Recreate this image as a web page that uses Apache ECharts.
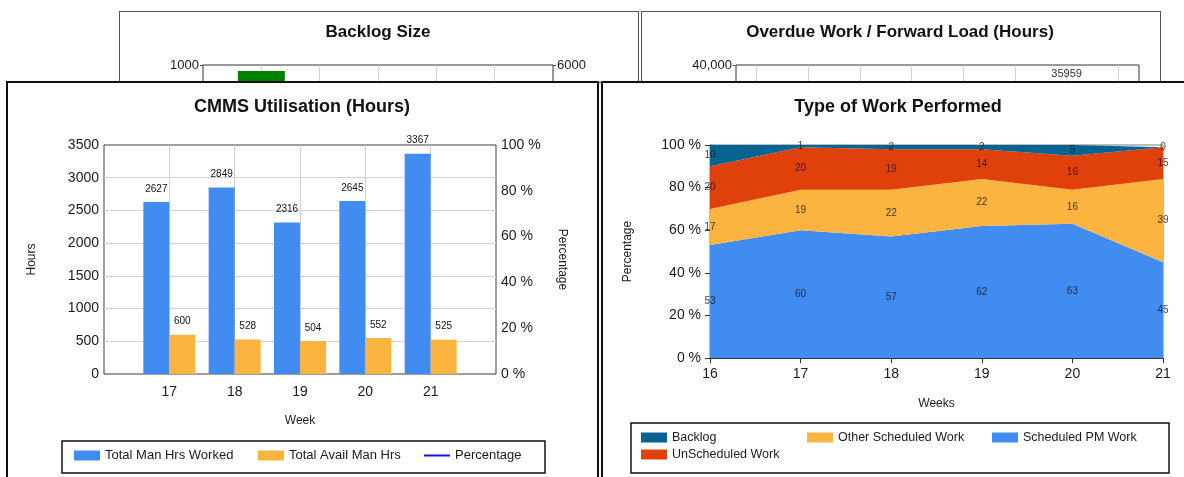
<!DOCTYPE html>
<html>
<head>
<meta charset="utf-8">
<title>CMMS Dashboard</title>
<script src="https://cdn.jsdelivr.net/npm/echarts@6/dist/echarts.min.js"></script>
<style>
  html, body { margin: 0; padding: 0; background: #fff; width: 1184px; height: 477px; overflow: hidden; }
  .layer { position: absolute; left: 0; top: 0; width: 1184px; height: 477px; }
  .frame { position: absolute; box-sizing: border-box; background: #fff; }
  #tlFrame { left: 119px; top: 11px; width: 520px; height: 72px; border: 1px solid #555; }
  #trFrame { left: 641px; top: 11px; width: 520px; height: 72px; border: 1px solid #555; }
  #blFrame { left: 6px; top: 81px; width: 593px; height: 420px; border: 2px solid #111; }
  #brFrame { left: 601px; top: 81px; width: 600px; height: 420px; border: 2px solid #111; }
</style>
</head>
<body>
<div id="tlFrame" class="frame"></div>
<div id="trFrame" class="frame"></div>
<div id="topCharts" class="layer"></div>
<div id="blFrame" class="frame"></div>
<div id="brFrame" class="frame"></div>
<div id="mainCharts" class="layer"></div>
<script>
const FONT = 'Liberation Sans, Arial, sans-serif'
const TEXT = '#1a1a1a'

// CMMS Utilisation (Hours)
const utilWeeks = [17, 18, 19, 20, 21]
const manHrsWorked = [2627, 2849, 2316, 2645, 3367]
const availManHrs = [600, 528, 504, 552, 525]
const percentage = []

// Type of Work Performed (bottom band first)
const workWeeks = ['16', '17', '18', '19', '20', '21']
const scheduledPm = [53, 60, 57, 62, 63, 45]
const otherScheduled = [17, 19, 22, 22, 16, 39]
const unscheduled = [20, 20, 19, 14, 16, 15]
const backlog = [10, 1, 2, 2, 5, 0]

// partly hidden panels behind
const backlogWeeks = [17]
const backlogSize = [970]
const loadWeeks = [22]
const forwardLoad = [35959]

const blue = '#418CF0'
const orange = '#FCB441'
const red = '#E0400A'
const teal = '#056492'

const bands = [
  { name: 'Scheduled PM Work', values: scheduledPm, color: blue },
  { name: 'Other Scheduled Work', values: otherScheduled, color: orange },
  { name: 'UnScheduled Work', values: unscheduled, color: red },
  { name: 'Backlog', values: backlog, color: teal }
]

// label sits in the middle of each band
const bandLabels = []
const running = workWeeks.map(() => 0)
bands.forEach(b => {
  b.values.forEach((v, i) => {
    bandLabels.push([i, running[i] + v / 2, v])
    running[i] += v
  })
})

const plain = v => String(v)
const withCommas = v => v.toString().replace(/\B(?=(\d{3})+(?!\d))/g, ',')

const axisText = { fontSize: 14, color: TEXT, fontFamily: FONT }
const nameText = { fontSize: 12, color: TEXT, fontFamily: FONT }
const gridLine = { lineStyle: { color: '#d0d0d0', width: 1 } }

// ---- top panels (mostly covered) ----
const topChart = echarts.init(document.getElementById('topCharts'))
topChart.setOption({
  animation: false,
  title: [
    { text: 'Backlog Size', left: 378, top: 24, textAlign: 'center', padding: 0,
      textStyle: { fontSize: 17, fontWeight: 'bold', color: '#111', fontFamily: FONT } },
    { text: 'Overdue Work / Forward Load (Hours)', left: 900, top: 24, textAlign: 'center', padding: 0,
      textStyle: { fontSize: 17, fontWeight: 'bold', color: '#111', fontFamily: FONT } }
  ],
  grid: [
    { left: 203, top: 65, width: 350, height: 200, show: true, borderColor: '#333', borderWidth: 1 },
    { left: 736, top: 65, width: 403, height: 200, show: true, borderColor: '#333', borderWidth: 1 }
  ],
  xAxis: [
    { gridIndex: 0, type: 'value', min: 16, max: 22, interval: 1,
      axisLine: { show: false }, axisTick: { show: false }, axisLabel: { show: false },
      splitLine: { ...gridLine, showMinLine: false, showMaxLine: false } },
    { gridIndex: 1, type: 'value', min: 15.6, max: 23.4, splitNumber: 8, minInterval: 1, maxInterval: 1,
      axisLine: { show: false }, axisTick: { show: false }, axisLabel: { show: false },
      splitLine: { ...gridLine, showMinLine: false, showMaxLine: false } }
  ],
  yAxis: [
    { gridIndex: 0, type: 'value', min: 0, max: 1000, interval: 250,
      axisLine: { show: false }, axisTick: { show: true, length: 3 },
      axisLabel: { fontSize: 13, color: TEXT, fontFamily: FONT, margin: 4, formatter: plain },
      splitLine: { show: false } },
    { gridIndex: 0, type: 'value', min: 0, max: 6000, interval: 1500, position: 'right',
      axisLine: { show: false }, axisTick: { show: true, length: 3 },
      axisLabel: { fontSize: 13, color: TEXT, fontFamily: FONT, margin: 4, formatter: plain },
      splitLine: { show: false } },
    { gridIndex: 1, type: 'value', min: 0, max: 40000, interval: 10000,
      axisLine: { show: false }, axisTick: { show: true, length: 3 },
      axisLabel: { fontSize: 13, color: TEXT, fontFamily: FONT, margin: 4, formatter: withCommas },
      splitLine: { show: false } }
  ],
  series: [
    { type: 'bar', xAxisIndex: 0, yAxisIndex: 0, barWidth: 47,
      data: backlogWeeks.map((w, i) => [w, backlogSize[i]]), itemStyle: { color: '#008000' } },
    { type: 'bar', xAxisIndex: 1, yAxisIndex: 2, barWidth: 30,
      data: loadWeeks.map((w, i) => [w, forwardLoad[i]]), itemStyle: { color: blue },
      label: { show: true, position: 'top', distance: 6, fontSize: 11, color: '#333', fontFamily: FONT,
        formatter: p => String(p.value[1]) } }
  ]
})

// ---- main panels ----
const chart = echarts.init(document.getElementById('mainCharts'))

const legendBase = {
  orient: 'horizontal', padding: 0, itemGap: 0, itemWidth: 26, itemHeight: 10,
  textStyle: { fontSize: 13, color: TEXT, fontFamily: FONT }
}
const smallLegendText = { ...legendBase.textStyle, fontSize: 12.5 }

chart.setOption({
  animation: false,
  title: [
    { text: 'CMMS Utilisation (Hours)', left: 302, top: 98, textAlign: 'center', padding: 0,
      textStyle: { fontSize: 18, fontWeight: 'bold', color: '#111', fontFamily: FONT } },
    { text: 'Type of Work Performed', left: 898, top: 98, textAlign: 'center', padding: 0,
      textStyle: { fontSize: 18, fontWeight: 'bold', color: '#111', fontFamily: FONT } }
  ],
  legend: [
    { ...legendBase, left: 74, top: 449, data: [{ name: 'Total Man Hrs Worked', icon: 'rect' }] },
    { ...legendBase, left: 258, top: 449, data: [{ name: 'Total Avail Man Hrs', icon: 'rect' }] },
    { ...legendBase, left: 424, top: 449, itemHeight: 2, data: [{ name: 'Percentage', icon: 'rect' }] },
    { ...legendBase, left: 641, top: 431, textStyle: smallLegendText, data: [{ name: 'Backlog', icon: 'rect' }] },
    { ...legendBase, left: 807, top: 431, textStyle: smallLegendText, data: [{ name: 'Other Scheduled Work', icon: 'rect' }] },
    { ...legendBase, left: 992, top: 431, textStyle: smallLegendText, data: [{ name: 'Scheduled PM Work', icon: 'rect' }] },
    { ...legendBase, left: 641, top: 448, textStyle: smallLegendText, data: [{ name: 'UnScheduled Work', icon: 'rect' }] }
  ],
  graphic: [
    { type: 'rect', shape: { x: 62, y: 441, width: 483, height: 32 }, style: { fill: 'none', stroke: '#111', lineWidth: 1.5 } },
    { type: 'rect', shape: { x: 631, y: 423, width: 538, height: 50 }, style: { fill: 'none', stroke: '#111', lineWidth: 1.5 } }
  ],
  grid: [
    { left: 104, top: 145, width: 392, height: 229, show: true, borderColor: '#3c3c3c', borderWidth: 1 },
    { left: 710, top: 145, width: 453, height: 213, show: true, borderColor: '#7a7a7a', borderWidth: 1 }
  ],
  xAxis: [
    { gridIndex: 0, type: 'value', min: 16, max: 22, interval: 1,
      axisLine: { show: false }, axisTick: { show: false },
      axisLabel: { ...axisText, margin: 11, showMinLabel: false, showMaxLabel: false },
      splitLine: { ...gridLine, showMinLine: false, showMaxLine: false },
      name: 'Week', nameLocation: 'middle', nameGap: 41, nameTextStyle: nameText },
    { gridIndex: 1, type: 'category', boundaryGap: false, data: workWeeks,
      axisLine: { lineStyle: { color: '#333' } },
      axisTick: { show: true, length: 5, lineStyle: { color: '#333' } },
      axisLabel: { ...axisText, margin: 9, interval: 0 },
      splitLine: { show: false },
      name: 'Weeks', nameLocation: 'middle', nameGap: 40, nameTextStyle: nameText }
  ],
  yAxis: [
    { gridIndex: 0, type: 'value', min: 0, max: 3500, interval: 500,
      axisLine: { show: false }, axisTick: { show: false },
      axisLabel: { ...axisText, margin: 5, formatter: plain },
      splitLine: { ...gridLine, showMinLine: false, showMaxLine: false },
      name: 'Hours', nameLocation: 'middle', nameRotate: 90, nameGap: 66, nameTextStyle: nameText },
    { gridIndex: 0, type: 'value', min: 0, max: 100, interval: 20, position: 'right',
      axisLine: { show: false }, axisTick: { show: false },
      axisLabel: { ...axisText, margin: 5, formatter: '{value} %' },
      splitLine: { show: false },
      name: 'Percentage', nameLocation: 'middle', nameRotate: -90, nameGap: 60, nameTextStyle: nameText },
    { gridIndex: 1, type: 'value', min: 0, max: 100, interval: 20,
      axisLine: { show: true, lineStyle: { color: '#333' } },
      axisTick: { show: true, length: 5, lineStyle: { color: '#333' } },
      axisLabel: { ...axisText, margin: 9, formatter: '{value} %' },
      splitLine: { show: false },
      name: 'Percentage', nameLocation: 'middle', nameRotate: 90, nameGap: 76, nameTextStyle: nameText }
  ],
  series: [
    { name: 'Total Man Hrs Worked', type: 'bar', xAxisIndex: 0, yAxisIndex: 0,
      barWidth: 26, barGap: '0%',
      data: utilWeeks.map((w, i) => [w, manHrsWorked[i]]),
      itemStyle: { color: blue },
      label: { show: true, position: 'top', distance: 8, fontSize: 10, color: '#111', fontFamily: FONT,
        formatter: p => String(p.value[1]) } },
    { name: 'Total Avail Man Hrs', type: 'bar', xAxisIndex: 0, yAxisIndex: 0,
      barWidth: 26, barGap: '0%',
      data: utilWeeks.map((w, i) => [w, availManHrs[i]]),
      itemStyle: { color: orange },
      label: { show: true, position: 'top', distance: 8, fontSize: 10, color: '#111', fontFamily: FONT,
        formatter: p => String(p.value[1]) } },
    { name: 'Percentage', type: 'line', xAxisIndex: 0, yAxisIndex: 1,
      data: percentage, symbol: 'none',
      lineStyle: { color: '#1010ff', width: 2 }, itemStyle: { color: '#1010ff' } },
    ...bands.map(b => ({
      name: b.name, type: 'line', xAxisIndex: 1, yAxisIndex: 2, stack: 'work',
      data: b.values, symbol: 'none', smooth: false,
      lineStyle: { width: 0 }, itemStyle: { color: b.color },
      areaStyle: { color: b.color, opacity: 1 }
    })),
    { type: 'scatter', xAxisIndex: 1, yAxisIndex: 2, data: bandLabels,
      symbolSize: 0, silent: true, clip: false, z: 5,
      label: { show: true, position: 'inside', formatter: p => p.value[2],
        fontSize: 10, color: '#111', fontFamily: FONT } }
  ]
})
</script>
</body>
</html>
